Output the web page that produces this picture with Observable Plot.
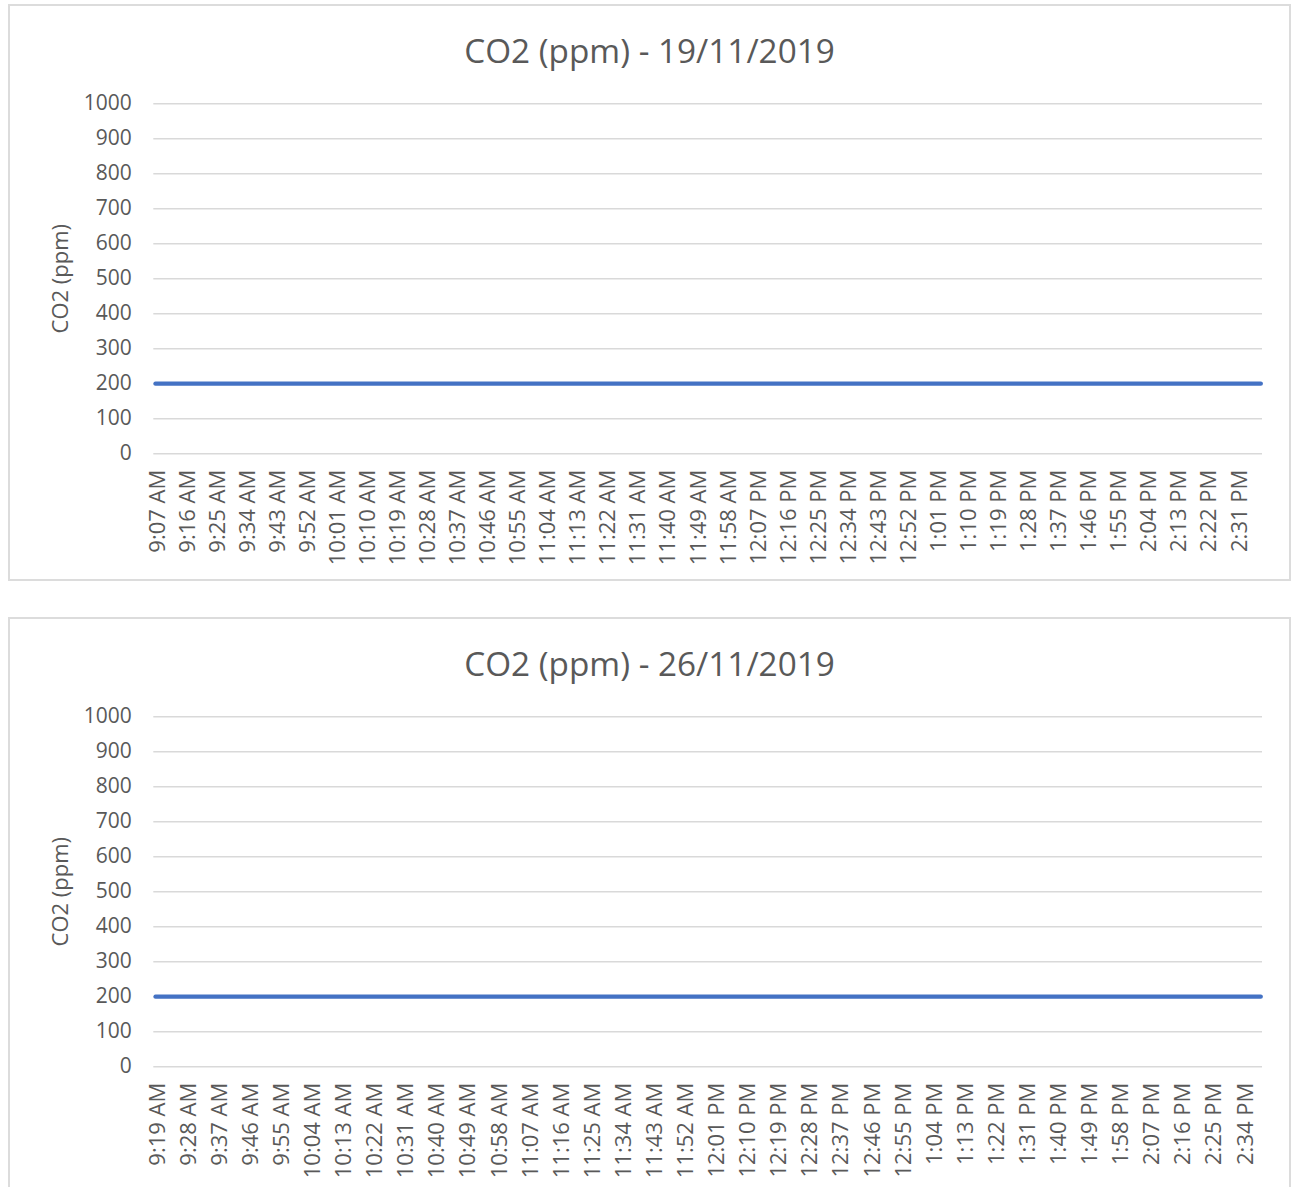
<!DOCTYPE html>
<html>
<head>
<meta charset="utf-8">
<script src="https://cdn.jsdelivr.net/npm/d3@7"></script>
<script src="https://cdn.jsdelivr.net/npm/@observablehq/plot@0.6"></script>
<style>
  html, body { margin: 0; padding: 0; background: #ffffff; }
  body { width: 1296px; height: 1240px; position: relative; font-family: 'Open Sans', sans-serif; }
  .box { position: absolute; left: 8px; width: 1283px; height: 577px; box-sizing: border-box;
         border: 2px solid #dcdcdc; background: #ffffff; overflow: hidden; }
  .title { position: absolute; left: 0; right: 0; top: 23.5px; text-align: center;
           font-size: 33.3px; line-height: 40px; color: #595959; font-family: 'Open Sans', sans-serif; }
  .plot { position: absolute; left: 0; top: 69px; }
</style>
</head>
<body>
<div class="box" id="box1" style="top:4px"><div class="title">CO2 (ppm) - 19/11/2019</div><div class="plot" id="p1"></div></div>
<div class="box" id="box2" style="top:617px"><div class="title">CO2 (ppm) - 26/11/2019</div><div class="plot" id="p2"></div></div>
<script>
// ---- Data ----
const yTicks = [0, 100, 200, 300, 400, 500, 600, 700, 800, 900, 1000];
const yLabel = "CO2 (ppm)";

// Chart 1: 19/11/2019
const day1Title = "CO2 (ppm) - 19/11/2019";
const day1TickLabels = ["9:07 AM","9:16 AM","9:25 AM","9:34 AM","9:43 AM","9:52 AM","10:01 AM","10:10 AM","10:19 AM","10:28 AM","10:37 AM","10:46 AM","10:55 AM","11:04 AM","11:13 AM","11:22 AM","11:31 AM","11:40 AM","11:49 AM","11:58 AM","12:07 PM","12:16 PM","12:25 PM","12:34 PM","12:43 PM","12:52 PM","1:01 PM","1:10 PM","1:19 PM","1:28 PM","1:37 PM","1:46 PM","1:55 PM","2:04 PM","2:13 PM","2:22 PM","2:31 PM"];
const day1Times = ["9:07 AM","9:16 AM","9:25 AM","9:34 AM","9:43 AM","9:52 AM","10:01 AM","10:10 AM","10:19 AM","10:28 AM","10:37 AM","10:46 AM","10:55 AM","11:04 AM","11:13 AM","11:22 AM","11:31 AM","11:40 AM","11:49 AM","11:58 AM","12:07 PM","12:16 PM","12:25 PM","12:34 PM","12:43 PM","12:52 PM","1:01 PM","1:10 PM","1:19 PM","1:28 PM","1:37 PM","1:46 PM","1:55 PM","2:04 PM","2:13 PM","2:22 PM","2:31 PM","2:38 PM"];
const day1Values = [200,200,200,200,200,200,200,200,200,200,200,200,200,200,200,200,200,200,200,200,200,200,200,200,200,200,200,200,200,200,200,200,200,200,200,200,200,200];

// Chart 2: 26/11/2019
const day2Title = "CO2 (ppm) - 26/11/2019";
const day2TickLabels = ["9:19 AM","9:28 AM","9:37 AM","9:46 AM","9:55 AM","10:04 AM","10:13 AM","10:22 AM","10:31 AM","10:40 AM","10:49 AM","10:58 AM","11:07 AM","11:16 AM","11:25 AM","11:34 AM","11:43 AM","11:52 AM","12:01 PM","12:10 PM","12:19 PM","12:28 PM","12:37 PM","12:46 PM","12:55 PM","1:04 PM","1:13 PM","1:22 PM","1:31 PM","1:40 PM","1:49 PM","1:58 PM","2:07 PM","2:16 PM","2:25 PM","2:34 PM"];
const day2Times = ["9:19 AM","9:28 AM","9:37 AM","9:46 AM","9:55 AM","10:04 AM","10:13 AM","10:22 AM","10:31 AM","10:40 AM","10:49 AM","10:58 AM","11:07 AM","11:16 AM","11:25 AM","11:34 AM","11:43 AM","11:52 AM","12:01 PM","12:10 PM","12:19 PM","12:28 PM","12:37 PM","12:46 PM","12:55 PM","1:04 PM","1:13 PM","1:22 PM","1:31 PM","1:40 PM","1:49 PM","1:58 PM","2:07 PM","2:16 PM","2:25 PM","2:34 PM","2:39 PM"];
const day2Values = [200,200,200,200,200,200,200,200,200,200,200,200,200,200,200,200,200,200,200,200,200,200,200,200,200,200,200,200,200,200,200,200,200,200,200,200,200];

// ---- Helpers ----
function toMinutes(s) {
  const [hm, ap] = s.split(" ");
  let [h, m] = hm.split(":").map(Number);
  if (ap === "PM" && h !== 12) h += 12;
  if (ap === "AM" && h === 12) h = 0;
  return h * 60 + m;
}

function makeChart(times, values, tickLabels) {
  const data = times.map((t, i) => ({t: toMinutes(t), v: values[i]}));
  const tickMins = tickLabels.map(toMinutes);
  const labelOf = new Map(tickLabels.map(l => [toMinutes(l), l]));
  const t0 = d3.min(data, d => d.t), t1 = d3.max(data, d => d.t);
  return Plot.plot({
    width: 1279,
    height: 504,
    marginLeft: 143.3,
    marginRight: 27,
    marginTop: 28.2,
    marginBottom: 125.8,
    style: {fontFamily: "'Open Sans', sans-serif", fontSize: "21px", color: "#595959", background: "#ffffff", overflow: "visible"},
    x: {type: "linear", domain: [t0 - 0.5, t1 + 0.5]},
    y: {domain: [0, 1000]},
    marks: [
      Plot.ruleY(yTicks, {stroke: "#d9d9d9", strokeWidth: 1.4}),
      Plot.axisY({ticks: yTicks, tickFormat: d => String(d), tickSize: 0, tickPadding: 22, label: null, fontSize: 21}),
      Plot.axisX({ticks: tickMins, tickFormat: m => labelOf.get(m), tickRotate: -90, tickSize: 0, tickPadding: 16,
                  label: null, fontSize: 22, dx: 2}),
      Plot.line(data, {x: "t", y: "v", stroke: "#4472c4", strokeWidth: 4.3, strokeLinecap: "round", strokeLinejoin: "round"}),
      Plot.text([yLabel], {text: d => d, frameAnchor: "left", textAnchor: "middle", dx: -93.3, rotate: -90, fontSize: 22, fill: "#595959"})
    ]
  });
}

document.getElementById("p1").appendChild(makeChart(day1Times, day1Values, day1TickLabels));
document.getElementById("p2").appendChild(makeChart(day2Times, day2Values, day2TickLabels));
</script>
</body>
</html>
